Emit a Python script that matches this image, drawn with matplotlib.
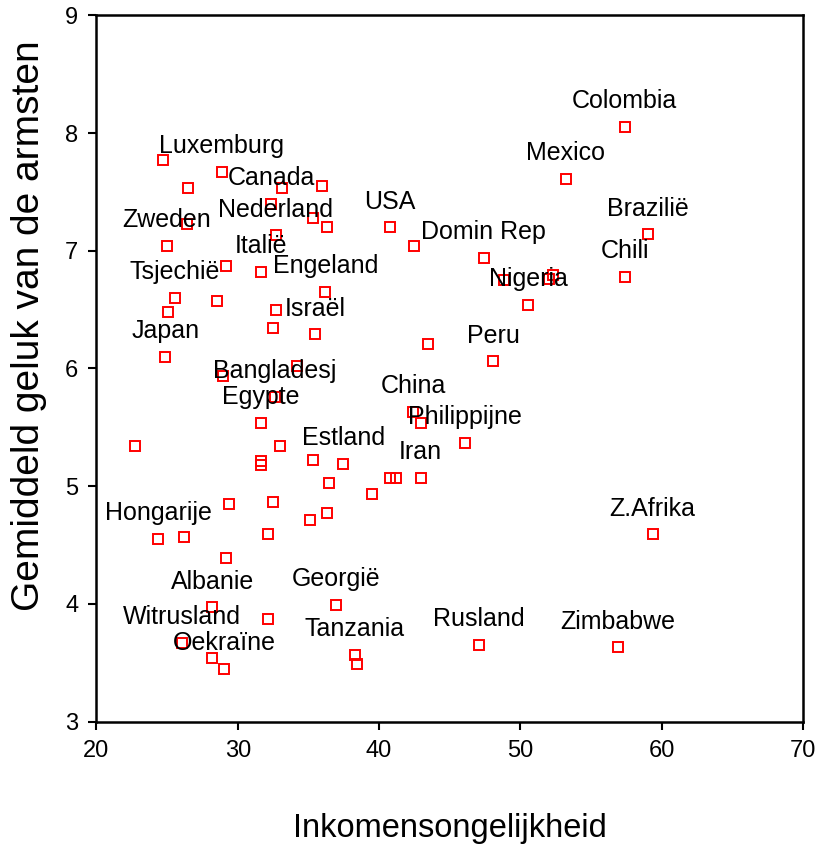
import matplotlib
matplotlib.use('Agg')
import matplotlib.pyplot as plt

# Gegevens
landen = ['Luxemburg', '', '', '', '', 'Canada', '', '', '', 'Zweden',
          'Nederland', '', 'Italië', 'Engeland', 'Tsjechië', '', '', '', '', 'Israël',
          'Japan', '', '', 'Bangladesj', 'Egypte', '', '', '', '', '',
          'Estland', '', '', '', '', '', 'Hongarije', '', '', '',
          'Albanie', '', 'Witrusland', '', 'Oekraïne', 'Georgië', 'Tanzania', '', 'USA', '',
          'Domin Rep', '', 'Nigeria', '', 'Peru', 'China', '', 'Philippijne', '', '',
          'Iran', '', 'Colombia', 'Mexico', 'Brazilië', '', '', 'Chili', 'Z.Afrika', 'Rusland',
          'Zimbabwe']

ongelijkheid = [28.86, 24.7, 26.5, 33.15, 35.98, 32.35, 35.3, 36.3, 26.4, 25.0,
                32.7, 29.2, 31.66, 36.2, 25.56, 28.5, 25.04, 32.7, 32.47, 35.5,
                24.87, 34.17, 28.97, 32.63, 31.66, 22.72, 32.99, 31.66, 31.66, 35.3,
                37.47, 36.45, 29.36, 32.47, 36.29, 35.13, 24.37, 26.2, 32.16, 29.17,
                28.2, 32.16, 26.03, 28.2, 29.02, 36.95, 38.3, 38.41, 40.77, 42.47,
                47.42, 48.86, 50.56, 43.44, 48.08, 42.42, 42.96, 46.1, 40.77, 41.2,
                42.94, 39.48, 57.38, 53.23, 59.03, 52.0, 52.3, 57.38, 59.36, 47.09,
                56.88]

geluk = [7.67, 7.77, 7.53, 7.53, 7.55, 7.40, 7.28, 7.20, 7.23, 7.04,
         7.13, 6.87, 6.82, 6.65, 6.60, 6.57, 6.48, 6.50, 6.34, 6.29,
         6.10, 6.02, 5.94, 5.76, 5.54, 5.34, 5.34, 5.21, 5.18, 5.22,
         5.19, 5.03, 4.85, 4.87, 4.77, 4.71, 4.55, 4.57, 4.59, 4.39,
         3.97, 3.87, 3.67, 3.54, 3.45, 3.99, 3.57, 3.49, 7.20, 7.04,
         6.94, 6.75, 6.54, 6.21, 6.06, 5.63, 5.54, 5.37, 5.07, 5.07,
         5.07, 4.93, 8.05, 7.61, 7.14, 6.76, 6.79, 6.78, 4.59, 3.65,
         3.63]

x_ticks = [20, 30, 40, 50, 60, 70]
y_ticks = [3, 4, 5, 6, 7, 8, 9]

plt.rcParams['font.family'] = ['Liberation Sans', 'DejaVu Sans']

fig = plt.figure(figsize=(8.21, 8.5), dpi=100)
ax = fig.add_axes([0.1175, 0.151, 0.8605, 0.831])

ax.plot(ongelijkheid, geluk, linestyle='none', marker='s', markersize=6.5,
        markerfacecolor='none', markeredgecolor='red', markeredgewidth=1.4)

# Labels boven de punten
for naam, x, y in zip(landen, ongelijkheid, geluk):
    if naam:
        ax.annotate(naam, (x, y), xytext=(0, 18.5), textcoords='offset points',
                    ha='center', va='center', fontsize=18, color='black')

ax.set_xlim(20, 70)
ax.set_ylim(3, 9)
ax.set_xticks(x_ticks)
ax.set_yticks(y_ticks)
ax.tick_params(direction='out', length=6, width=1.5, labelsize=17, pad=7)
for spine in ax.spines.values():
    spine.set_linewidth(1.8)

ax.set_xlabel('Inkomensongelijkheid', fontsize=23.5)
ax.set_ylabel('Gemiddeld geluk van de armsten', fontsize=28)
ax.xaxis.set_label_coords(0.5, -0.13)
ax.yaxis.set_label_coords(-0.07, 0.56)

fig.savefig('out.png', dpi=100)
